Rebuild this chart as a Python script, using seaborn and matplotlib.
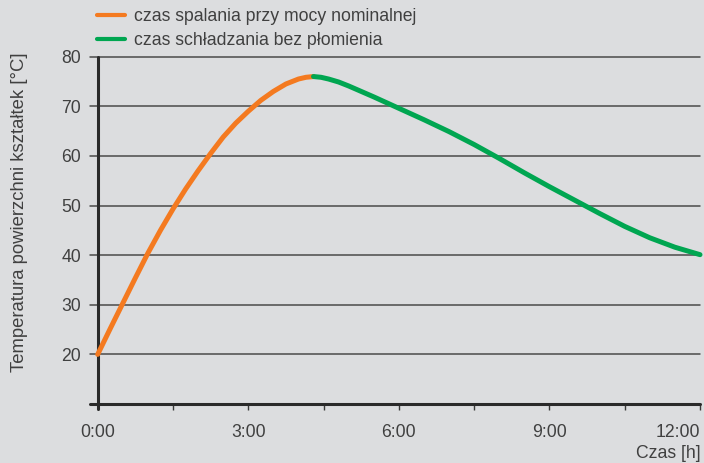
import matplotlib

matplotlib.use("Agg")
import matplotlib.pyplot as plt
import pandas as pd
import seaborn as sns
from matplotlib.ticker import FixedLocator, MultipleLocator

# burn phase (hours, deg C)
burn_hours = [0, 0.25, 0.5, 0.75, 1.0, 1.25, 1.5, 1.75, 2.0, 2.25, 2.5, 2.75,
              3.0, 3.25, 3.5, 3.75, 4.0, 4.15, 4.3]
burn_temp = [20.0, 25.2, 30.3, 35.4, 40.4, 45.0, 49.3, 53.3, 57.0, 60.5, 63.8, 66.6,
             69.0, 71.2, 73.0, 74.5, 75.5, 75.85, 76.0]

# cooling phase without flame
cool_hours = [4.3, 4.45, 4.6, 4.8, 5.0, 5.5, 6.0, 6.5, 7.0, 7.5, 8.0, 8.5, 9.0, 9.5,
              10.0, 10.5, 11.0, 11.5, 12.0]
cool_temp = [76.0, 75.85, 75.5, 74.9, 74.1, 71.9, 69.6, 67.3, 64.9, 62.3, 59.5, 56.6,
             53.8, 51.1, 48.4, 45.8, 43.5, 41.6, 40.1]

phase_labels = ["czas spalania przy mocy nominalnej", "czas schładzania bez płomienia"]
phase_colors = ["#f47a20", "#00a651"]

x_ticks = [0, 3, 6, 9, 12]
x_tick_labels = ["0:00", "3:00", "6:00", "9:00", "12:00"]
y_ticks = [20, 30, 40, 50, 60, 70, 80]

BG = "#dcdddf"
INK = "#404040"
FS = 12.7

sns.set_theme(style="white", rc={"figure.facecolor": BG, "axes.facecolor": BG})
plt.rcParams["font.family"] = ["Liberation Sans", "DejaVu Sans"]

data = pd.concat(
    [
        pd.DataFrame({"hours": burn_hours, "temp": burn_temp, "phase": phase_labels[0]}),
        pd.DataFrame({"hours": cool_hours, "temp": cool_temp, "phase": phase_labels[1]}),
    ],
    ignore_index=True,
)

fig = plt.figure(figsize=(7.04, 4.63), dpi=100)
ax = fig.add_axes([97.7 / 704, 59 / 463, 602.3 / 704, 347.3 / 463])

sns.lineplot(
    data=data, x="hours", y="temp", hue="phase", hue_order=phase_labels,
    palette=phase_colors, linewidth=3.6, ax=ax, legend=False, clip_on=False,
    zorder=5, sort=False,
)

ax.set_xlim(0, 12)
ax.set_ylim(10, 80)
for side in ["top", "right", "left", "bottom"]:
    ax.spines[side].set_visible(False)

# horizontal guide lines reaching a bit left of the axis
for y in y_ticks:
    ax.axhline(y, xmin=-0.0135, xmax=1, color="#4a4a4a", linewidth=1.1, clip_on=False, zorder=1)

# axis lines
ax.axhline(10, xmin=-0.0135, xmax=1, color="#2a2a2a", linewidth=2.2, clip_on=False, zorder=3)
ax.axvline(0, ymin=-0.014, ymax=1, color="#2a2a2a", linewidth=2.2, clip_on=False, zorder=3)

ax.xaxis.set_major_locator(FixedLocator(x_ticks))
ax.xaxis.set_minor_locator(MultipleLocator(1.5))
ax.set_xticklabels(x_tick_labels)
ax.get_xticklabels()[-1].set_horizontalalignment("right")
ax.tick_params(axis="x", which="both", direction="out", length=4.5, width=1.0,
               color="#3a3a3a", bottom=True, pad=10, labelsize=FS, labelcolor=INK)

ax.set_yticks(y_ticks)
ax.tick_params(axis="y", which="both", length=0, pad=12, labelsize=FS, labelcolor=INK)

ax.set_xlabel("")
ax.set_ylabel("")
fig.text(701 / 704, 1 - 453 / 463, "Czas [h]", ha="right", va="center", fontsize=FS, color=INK)
fig.text(20 / 704, 1 - 212 / 463, "Temperatura powierzchni kształtek [°C]", rotation=90,
         ha="center", va="center", fontsize=13.3, color=INK)

handles = [plt.Line2D([], [], color=c, linewidth=3) for c in phase_colors]
fig.legend(handles, phase_labels, loc="upper left", bbox_to_anchor=(97 / 704, 1 - 8 / 463),
           frameon=False, fontsize=FS, handlelength=1.6, handletextpad=0.5,
           labelspacing=0.42, labelcolor=INK, borderaxespad=0, borderpad=0)

fig.savefig("out.png", dpi=100, facecolor=BG)
